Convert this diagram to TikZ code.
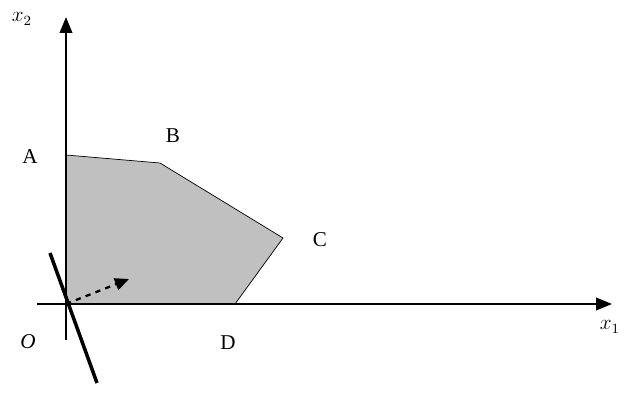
\documentclass[tikz,border=0pt]{standalone}
\usepackage{fontspec}
\setmainfont{Liberation Serif}
\definecolor{regiongray}{HTML}{C0C0C0}
\usetikzlibrary{arrows.meta,positioning}

\begin{document}
\begin{tikzpicture}[x=0.02cm,y=-0.02cm]
  \useasboundingbox (0,0) rectangle (625,392);
  % vertices of the feasible region
  \coordinate (O) at (66,304);
  \coordinate (A) at (66,155);
  \coordinate (B) at (160,163);
  \coordinate (C) at (283,238);
  \coordinate (D) at (235,304);
  \filldraw[fill=regiongray,draw=black,thin] (O) -- (A) -- (B) -- (C) -- (D) -- cycle;
  % axes
  \coordinate (xs) at (37,304);  \coordinate (xe) at (612,304);
  \coordinate (ys) at (66,340);  \coordinate (ye) at (66,17);
  \draw[line width=1.4pt,-{Triangle[length=9pt,width=7pt]}] (xs) -- (xe);
  \draw[line width=1.4pt,-{Triangle[length=9pt,width=7pt]}] (ys) -- (ye);
  % objective line and gradient
  \coordinate (ls) at (50,253);  \coordinate (le) at (97,383);
  \draw[line width=2pt] (ls) -- (le);
  \coordinate (g) at (129,279);
  \draw[line width=1.3pt,dashed,-{Triangle[length=8pt,width=7pt]}] (O) -- (g);
  % labels
  \node[font=\large] (la) at (30,157) {A};
  \node[font=\large] (lb) at (173,136) {B};
  \node[font=\large] (lc) at (320,240) {C};
  \node[font=\large] (ld) at (228,343) {D};
  \node[font=\large\itshape] (lo) at (28,342) {O};
  \node[font=\large] (lx2) at (22,19) {$x_2$};
  \node[font=\large] (lx1) at (610,327) {$x_1$};
\end{tikzpicture}
\end{document}
